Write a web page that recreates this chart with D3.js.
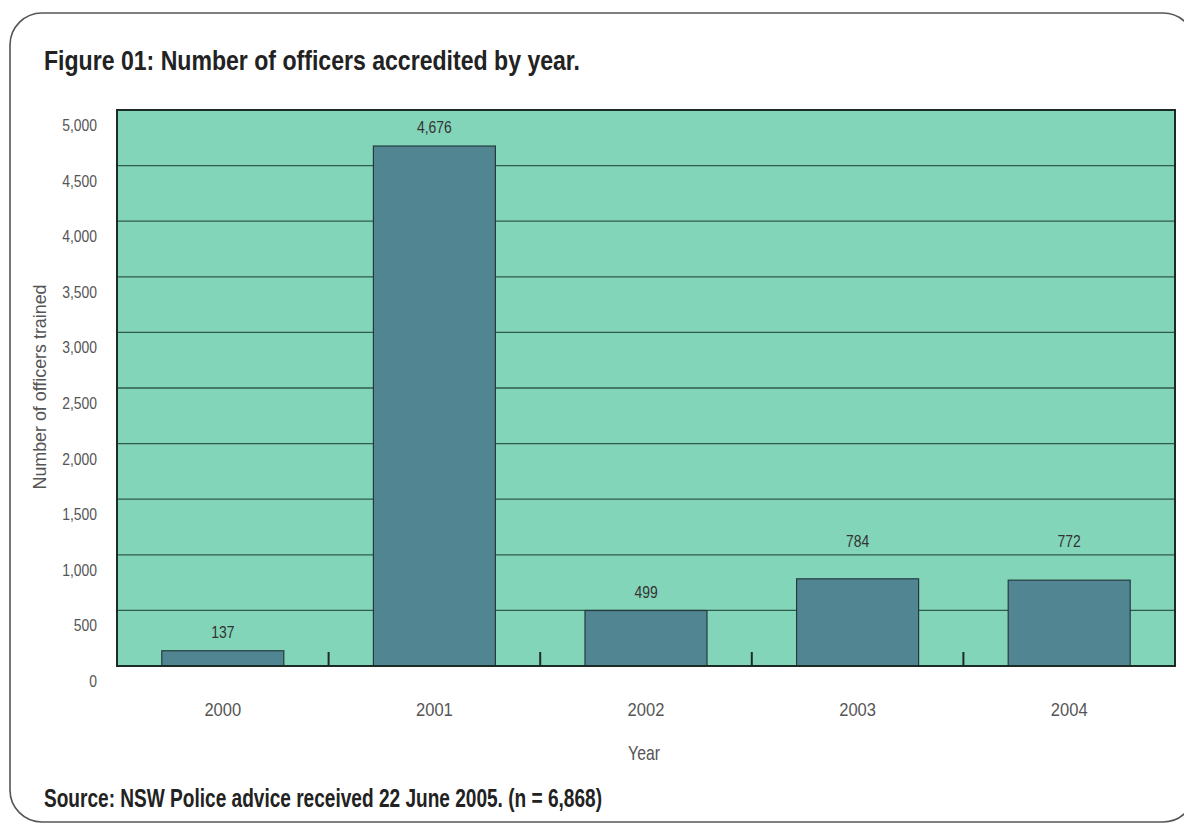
<!DOCTYPE html>
<html><head><meta charset="utf-8">
<script src="https://cdn.jsdelivr.net/npm/d3@7"></script>
<style>
body{margin:0;background:#fff;}
svg{display:block;}
text{font-family:"Liberation Sans",Arial,sans-serif;}
</style></head>
<body>
<svg id="chart" width="1184" height="825"></svg>
<script>
const categories = ["2000","2001","2002","2003","2004"];
const values = [137, 4676, 499, 784, 772];
const valueLabels = ["137","4,676","499","784","772"];
const yTicks = [0,500,1000,1500,2000,2500,3000,3500,4000,4500,5000];

const svg = d3.select("#chart");
const M = {left:117, right:1175, top:110, bottom:666};
const SX = 0.82; // condensed look

// outer frame
svg.append("rect").attr("x",10).attr("y",13).attr("width",1185).attr("height",809)
  .attr("rx",32).attr("fill","#fff").attr("stroke","#555").attr("stroke-width",1.6);

svg.append("text").attr("x",44).attr("y",70).attr("font-size",28).attr("font-weight","bold")
  .attr("textLength",536).attr("lengthAdjust","spacingAndGlyphs")
  .attr("fill","#222").text("Figure 01: Number of officers accredited by year.");

const x = d3.scaleBand().domain(categories).range([M.left,M.right]).paddingInner(0).paddingOuter(0);
const y = d3.scaleLinear().domain([0,5000]).range([M.bottom,M.top]);

// plot background
svg.append("rect").attr("x",M.left).attr("y",M.top).attr("width",M.right-M.left).attr("height",M.bottom-M.top)
  .attr("fill","#83d5b9");

// gridlines
const grid = yTicks.filter(d=>d>0&&d<5000);
svg.append("g").selectAll("line").data(grid).join("line")
  .attr("x1",M.left).attr("x2",M.right).attr("y1",d=>y(d)).attr("y2",d=>y(d))
  .attr("stroke","#2f5a4c").attr("stroke-width",1.3);

// bars
const bw = 122;
svg.append("g").selectAll("rect").data(values).join("rect")
  .attr("x",(d,i)=>x(categories[i])+x.bandwidth()/2-bw/2).attr("width",bw)
  .attr("y",d=>y(d)).attr("height",d=>y(0)-y(d))
  .attr("fill","#528592").attr("stroke","#233b3f").attr("stroke-width",1.2);

// value labels (moved above a gridline they would overlap)
function labelY(v){
  let b = y(v) - 13;
  for (const g of yTicks){
    const gy = y(g);
    if (gy >= b - 13 && gy <= b + 1) { b = gy - 8; }
  }
  return b;
}
svg.append("g").selectAll("text").data(values).join("text")
  .attr("transform",(d,i)=>`translate(${x(categories[i])+x.bandwidth()/2},${labelY(d)}) scale(${SX},1)`)
  .attr("text-anchor","middle").attr("font-size",17).attr("fill","#333")
  .text((d,i)=>valueLabels[i]);

// plot border
svg.append("rect").attr("x",M.left).attr("y",M.top).attr("width",M.right-M.left).attr("height",M.bottom-M.top)
  .attr("fill","none").attr("stroke","#1d2b27").attr("stroke-width",2);

// category boundary ticks (inward)
svg.append("g").selectAll("line").data(categories.slice(1)).join("line")
  .attr("x1",d=>x(d)).attr("x2",d=>x(d)).attr("y1",M.bottom).attr("y2",M.bottom-14)
  .attr("stroke","#1d2b27").attr("stroke-width",2);

// y tick labels
svg.append("g").selectAll("text").data(yTicks).join("text")
  .attr("transform",d=>`translate(97,${y(d)+21}) scale(0.87,1)`).attr("text-anchor","end")
  .attr("font-size",16).attr("fill","#555").text(d=>d3.format(",")(d));

// x labels
svg.append("g").selectAll("text").data(categories).join("text")
  .attr("transform",d=>`translate(${x(d)+x.bandwidth()/2},716) scale(0.92,1)`).attr("text-anchor","middle")
  .attr("font-size",18).attr("fill","#555").text(d=>d);

svg.append("text").attr("transform","translate(644,760) scale(0.75,1)").attr("text-anchor","middle")
  .attr("font-size",21).attr("fill","#555").text("Year");

svg.append("text").attr("transform","translate(46,387) rotate(-90)").attr("text-anchor","middle")
  .attr("font-size",18).attr("textLength",205).attr("lengthAdjust","spacingAndGlyphs")
  .attr("fill","#555").text("Number of officers trained");

svg.append("text").attr("x",44).attr("y",807).attr("font-size",25).attr("font-weight","bold")
  .attr("textLength",558).attr("lengthAdjust","spacingAndGlyphs")
  .attr("fill","#222").text("Source: NSW Police advice received 22 June 2005. (n = 6,868)");
</script>
</body></html>
